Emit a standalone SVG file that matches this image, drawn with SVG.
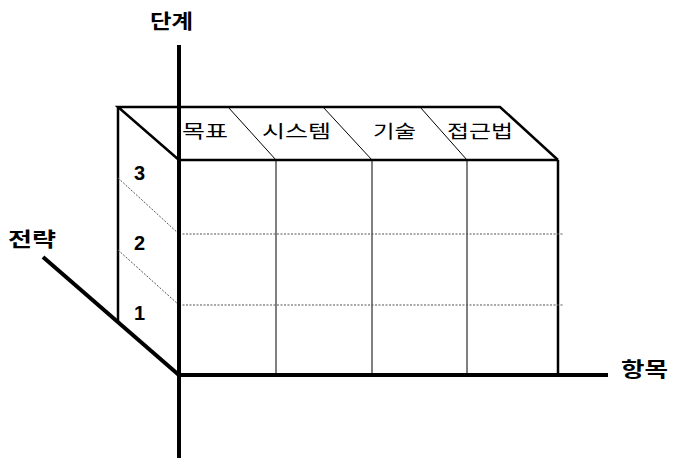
<svg xmlns="http://www.w3.org/2000/svg" width="674" height="458" viewBox="0 0 674 458">
<style>
.axis{stroke:#000;stroke-width:4;fill:none;stroke-linecap:butt}
.edge{stroke:#000;stroke-width:2.5;fill:none}
.thin{stroke:#000;stroke-width:1;fill:none}
.dash{stroke:#555;stroke-width:1;stroke-dasharray:2,1.5;fill:none}
.lab{font-family:"Noto Sans CJK KR",sans-serif;font-size:18px;fill:#000}
.axlab{font-family:"Noto Sans CJK KR",sans-serif;font-size:20px;font-weight:bold;fill:#000}
.num{font-family:"Liberation Sans",Arial,sans-serif;font-size:20px;font-weight:bold;fill:#000}
</style>
<rect width="674" height="458" fill="#fff"/>
<g id="box">
<polyline class="edge" points="179,160 118,107 500,107 558,160"/>
<line class="edge" x1="118" y1="107" x2="118" y2="321"/>
<line class="edge" x1="179" y1="160" x2="558" y2="160"/>
<line class="edge" x1="558" y1="160" x2="558" y2="375"/>
<line class="thin" x1="228" y1="107" x2="276" y2="160"/>
<line class="thin" x1="323" y1="107" x2="372" y2="160"/>
<line class="thin" x1="420" y1="107" x2="467" y2="160"/>
<line class="thin" x1="276" y1="160" x2="276" y2="375"/>
<line class="thin" x1="372" y1="160" x2="372" y2="375"/>
<line class="thin" x1="467" y1="160" x2="467" y2="375"/>
<line class="dash" x1="179" y1="234" x2="563" y2="234"/>
<line class="dash" x1="179" y1="305" x2="563" y2="305"/>
<line class="dash" x1="118" y1="178" x2="179" y2="234"/>
<line class="dash" x1="118" y1="250" x2="179" y2="305"/>
</g>
<g id="axes">
<line class="axis" x1="179" y1="45" x2="179" y2="458"/>
<line class="axis" x1="177" y1="375" x2="608" y2="375"/>
<line class="axis" x1="43" y1="257" x2="180" y2="376"/>
</g>
<g id="labels">
<text class="lab" x="182" y="138" textLength="46" lengthAdjust="spacingAndGlyphs">목표</text>
<text class="lab" x="262" y="138" textLength="69" lengthAdjust="spacingAndGlyphs">시스템</text>
<text class="lab" x="373" y="138" textLength="43" lengthAdjust="spacingAndGlyphs">기술</text>
<text class="lab" x="447" y="138" textLength="66" lengthAdjust="spacingAndGlyphs">접근법</text>
<text class="num" x="134" y="180">3</text>
<text class="num" x="134" y="250">2</text>
<text class="num" x="134" y="320">1</text>
<text class="axlab" x="150" y="29" textLength="43" lengthAdjust="spacingAndGlyphs">단계</text>
<text class="axlab" x="8" y="247" textLength="48" lengthAdjust="spacingAndGlyphs">전략</text>
<text class="axlab" x="621" y="377" textLength="47" lengthAdjust="spacingAndGlyphs">항목</text>
</g>
</svg>
